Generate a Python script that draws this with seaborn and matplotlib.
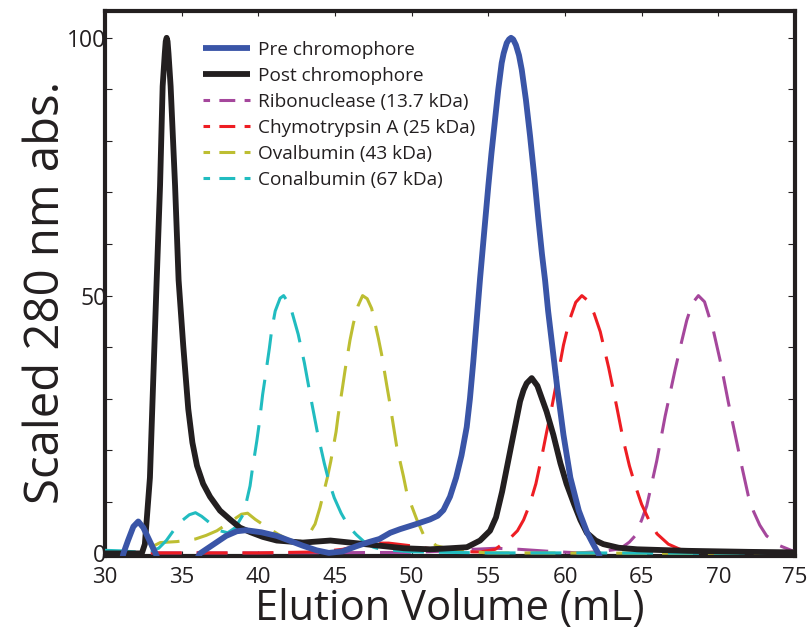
"""Size-exclusion elution profiles: pre/post chromophore vs. protein standards."""

import matplotlib
matplotlib.use("Agg")
import matplotlib.pyplot as plt
from matplotlib.lines import Line2D
from matplotlib.ticker import MultipleLocator
import pandas as pd
import seaborn as sns

# ---- data (mL, scaled abs.) ----
post_x = [30.0, 31.0, 32.0, 32.4, 32.6, 32.93, 33.15, 33.37, 33.59, 33.76, 33.9, 33.96,
          34.02, 34.08, 34.14, 34.28, 34.57, 34.8, 35.1, 35.43, 35.7, 36.0, 36.4,
          36.85, 37.5, 38.15, 38.8, 39.5, 40.3, 41.2, 42.9, 44.7, 46.0, 47.9, 49.5,
          51.2, 52.5, 53.6, 54.46, 55.11, 55.5, 55.9, 56.5, 57.07, 57.3, 57.5, 57.83,
          58.2, 58.5, 58.8, 59.24, 59.7, 60.1, 60.6, 61.0, 61.42, 62.0, 62.5, 63.5,
          64.7, 68.0, 72.0, 75.0]
post_y = [0.0, 0.0, 0.0, 0.0, 1.8, 14.7, 34.0, 53.0, 71.3, 90.6, 97.0, 99.3,
          100.0, 99.3, 97.0, 90.6, 71.3, 53.0, 40.4, 28.0, 21.5, 17.0, 13.5,
          11.0, 8.3, 6.6, 5.0, 4.1, 3.2, 2.5, 2.1, 2.5, 2.1, 1.5, 1.0,
          0.8, 1.0, 1.2, 2.5, 4.4, 7.0, 12.0, 21.0, 29.5, 31.7, 33.0, 34.0,
          32.5, 30.0, 27.5, 23.0, 17.5, 13.5, 9.5, 6.5, 4.0, 2.5, 1.8, 1.1,
          0.8, 0.5, 0.3, 0.2]

pre_x = [30.0, 30.8, 31.2, 31.5, 31.85, 32.17, 32.5, 32.9, 33.3, 33.7, 34.5, 35.6,
         36.2, 36.8, 37.3, 37.9, 38.6, 39.2, 40.2, 41.2, 42.1, 42.9, 43.8, 44.6,
         45.5, 46.4, 47.2, 47.9, 48.6, 49.24, 50.2, 51.2, 51.7, 52.07, 52.5, 52.9,
         53.25, 53.59, 53.8, 54.02, 54.46, 54.75, 55.0, 55.2, 55.44, 55.65, 55.87,
         56.0, 56.2, 56.35, 56.48, 56.62, 56.8, 57.0, 57.18, 57.45, 57.72, 58.0,
         58.26, 58.5, 58.7, 58.9, 59.1, 59.5, 59.9, 60.35, 60.9, 61.45, 61.8, 62.17,
         62.6, 63.5, 75.0]
pre_y = [-5.0, -5.0, 0.0, 2.5, 5.2, 6.2, 5.0, 2.5, 0.0, -3.0, -5.0, -3.0,
         0.0, 1.2, 2.2, 3.4, 4.3, 4.5, 4.1, 3.4, 2.4, 1.5, 0.6, 0.1,
         0.4, 1.4, 2.2, 2.8, 4.0, 4.7, 5.6, 6.6, 7.3, 8.4, 11.0, 14.7,
         19.0, 24.5, 30.0, 37.2, 53.3, 63.0, 71.3, 77.5, 84.2, 90.0, 95.1,
         97.0, 99.0, 99.7, 100.0, 99.7, 98.6, 96.6, 93.8, 88.0, 81.0, 73.0,
         64.9, 58.0, 53.0, 47.0, 42.0, 32.0, 23.0, 14.7, 8.3, 4.0, 2.0, 0.0,
         -3.0, -5.0, -5.0]

ribo_x = [30.0, 40.0, 50.0, 52.6, 54.0, 55.5, 57.0, 59.0, 60.9, 62.0, 62.7, 63.6,
          64.2, 64.57, 65.0, 65.33, 65.55, 65.98, 66.53, 67.18, 67.6, 67.94, 68.3,
          68.7, 69.1, 69.67, 70.15, 70.66, 71.1, 71.53, 71.96, 72.29, 72.7, 73.15,
          74.0, 75.0]
ribo_y = [0.1, 0.1, 0.2, 0.5, 0.8, 1.0, 0.8, 0.4, 0.1, 0.3, 0.5, 0.9,
          2.2, 3.4, 6.5, 9.2, 12.1, 17.9, 26.6, 35.6, 41.0, 45.2, 48.5,
          50.0, 48.8, 43.3, 37.0, 29.2, 23.0, 16.9, 11.1, 8.2, 5.5, 3.4,
          1.5, 0.3]

chymo_x = [30.0, 35.0, 40.0, 44.0, 45.5, 46.5, 47.5, 48.5, 49.9, 51.0, 52.5, 54.0,
           54.5, 55.1, 55.45, 56.0, 56.5, 56.9, 57.3, 57.7, 58.1, 58.5, 58.8, 59.15,
           59.5, 59.9, 60.3, 60.7, 61.1, 61.5, 61.9, 62.3, 62.85, 63.37, 63.8, 64.2,
           64.6, 65.0, 65.5, 66.0, 66.74, 67.5, 68.5, 75.0]
chymo_y = [0.1, 0.1, 0.1, 0.3, 0.8, 1.5, 2.0, 2.0, 1.5, 1.0, 0.6, 0.3,
           0.3, 0.6, 0.8, 2.0, 3.2, 4.4, 6.5, 9.5, 13.5, 19.0, 23.5, 28.5,
           34.0, 40.4, 45.3, 48.7, 50.0, 49.0, 46.5, 43.0, 36.0, 28.5, 22.0, 17.0,
           13.0, 9.5, 6.3, 3.8, 1.8, 0.8, 0.4, 0.1]

oval_x = [30.0, 31.0, 32.0, 32.4, 33.0, 33.6, 34.7, 35.9, 36.6, 37.3, 38.1, 38.9,
          39.3, 39.8, 40.5, 41.3, 42.0, 42.7, 43.2, 43.7, 44.02, 44.5, 44.72, 45.07,
          45.2, 45.5, 45.66, 45.98, 46.2, 46.5, 46.8, 47.1, 47.39, 47.83, 48.04,
          48.37, 48.55, 48.85, 49.02, 49.46, 49.68, 50.0, 50.33, 50.76, 51.2, 51.6,
          52.5, 53.0, 55.0, 75.0]
oval_y = [0.1, 0.1, 0.1, 0.4, 1.2, 2.1, 2.3, 2.8, 3.5, 4.4, 6.0, 7.6,
          7.8, 6.6, 5.2, 3.7, 2.6, 2.2, 3.2, 5.7, 8.9, 14.7, 17.8, 23.6,
          26.6, 32.4, 35.6, 41.4, 44.6, 48.0, 50.0, 49.4, 47.5, 41.7, 38.6,
          32.7, 29.6, 24.0, 20.8, 15.0, 11.8, 9.2, 6.6, 3.7, 2.6, 1.5,
          0.8, 0.5, 0.1, 0.0]

conal_x = [30.0, 31.0, 32.0, 33.0, 33.5, 34.0, 34.46, 35.0, 35.5, 35.9, 36.3, 36.8,
           37.5, 38.0, 38.5, 39.0, 39.2, 39.46, 39.6, 39.9, 40.05, 40.28, 40.44,
           40.72, 40.87, 41.1, 41.42, 41.65, 42.07, 42.6, 43.0, 43.4, 43.85, 44.3,
           44.6, 44.95, 45.4, 45.9, 46.4, 47.0, 47.5, 48.0, 50.0, 55.0, 60.0, 75.0]
conal_y = [0.6, 0.5, 0.3, 0.5, 1.0, 2.5, 4.4, 6.3, 7.5, 7.9, 7.2, 6.0,
           4.4, 4.0, 5.0, 7.5, 9.7, 13.1, 16.1, 21.8, 25.0, 30.8, 34.0,
           39.8, 43.3, 47.0, 49.5, 50.0, 48.1, 42.5, 37.0, 30.5, 23.5, 17.5,
           14.0, 10.8, 7.8, 5.2, 3.6, 2.0, 1.2, 0.8, 0.3, 0.1, 0.1, 0.0]

x_ticks = [30, 35, 40, 45, 50, 55, 60, 65, 70, 75]
y_ticks = [0, 50, 100]

INK = "#231F20"
BLUE = "#3A55A7"
MAGENTA = "#A5479C"
RED = "#EE1D23"
OLIVE = "#BDBE32"
CYAN = "#21BCC0"

DASH_PLOT = (0, (10.1, 4.9))
DASH_LEGEND = (3.05, (5.2, 3.05))


def setup_style():
    sns.set_theme(style="ticks")
    plt.rcParams.update({
        "font.family": ["Open Sans", "DejaVu Sans"],
        "text.color": INK,
        "axes.labelcolor": INK,
        "xtick.color": INK,
        "ytick.color": INK,
        "axes.edgecolor": INK,
        "axes.linewidth": 3.0,
        "lines.solid_capstyle": "butt",
        "lines.solid_joinstyle": "round",
        "lines.dash_joinstyle": "round",
    })


def main():
    setup_style()
    fig = plt.figure(figsize=(8.11, 6.35), dpi=100)
    ax = fig.add_axes([105 / 811, 79 / 635, 690 / 811, 545 / 635])

    dashed = [
        (ribo_x, ribo_y, MAGENTA),
        (chymo_x, chymo_y, RED),
        (oval_x, oval_y, OLIVE),
        (conal_x, conal_y, CYAN),
    ]
    for xs, ys, col in dashed:
        df = pd.DataFrame({"x": xs, "y": ys})
        sns.lineplot(data=df, x="x", y="y", ax=ax, color=col, linewidth=2.2,
                     linestyle=DASH_PLOT, estimator=None, sort=False, zorder=3)

    for xs, ys, col in [(post_x, post_y, INK), (pre_x, pre_y, BLUE)]:
        df = pd.DataFrame({"x": xs, "y": ys})
        sns.lineplot(data=df, x="x", y="y", ax=ax, color=col, linewidth=4.2,
                     estimator=None, sort=False, zorder=4)

    ax.set_xlim(30, 75)
    ax.set_ylim(-0.5, 105.2)
    ax.set_xticks(x_ticks)
    ax.set_yticks(y_ticks)
    ax.yaxis.set_minor_locator(MultipleLocator(10))
    ax.tick_params(axis="both", which="both", direction="in", top=True, right=True,
                   width=0.8)
    ax.tick_params(axis="x", which="major", length=3.5, pad=8, labelsize=16)
    ax.tick_params(axis="y", which="both", length=5, pad=-1, labelsize=16.5)
    for side in ["top", "right", "bottom", "left"]:
        ax.spines[side].set_visible(True)
        ax.spines[side].set_linewidth(3.0)

    ax.set_xlabel("Elution Volume (mL)", fontsize=30, labelpad=0)
    ax.set_ylabel("Scaled 280 nm abs.", fontsize=34, labelpad=-2)
    ax.yaxis.label.set_y(0.484)

    handles = [
        Line2D([], [], color=BLUE, linewidth=4.2),
        Line2D([], [], color=INK, linewidth=4.2),
        Line2D([], [], color=MAGENTA, linewidth=2.2, linestyle=DASH_LEGEND),
        Line2D([], [], color=RED, linewidth=2.2, linestyle=DASH_LEGEND),
        Line2D([], [], color=OLIVE, linewidth=2.2, linestyle=DASH_LEGEND),
        Line2D([], [], color=CYAN, linewidth=2.2, linestyle=DASH_LEGEND),
    ]
    labels = ["Pre chromophore", "Post chromophore", "Ribonuclease (13.7 kDa)",
              "Chymotrypsin A (25 kDa)", "Ovalbumin (43 kDa)", "Conalbumin (67 kDa)"]
    ax.legend(handles, labels, loc="upper left", bbox_to_anchor=(0.142, 0.945),
              frameon=False, fontsize=13.7, handlelength=2.47, handletextpad=0.42,
              labelspacing=0.42, borderpad=0, borderaxespad=0)

    fig.savefig("out.png", dpi=100)
    plt.close(fig)


if __name__ == "__main__":
    main()
